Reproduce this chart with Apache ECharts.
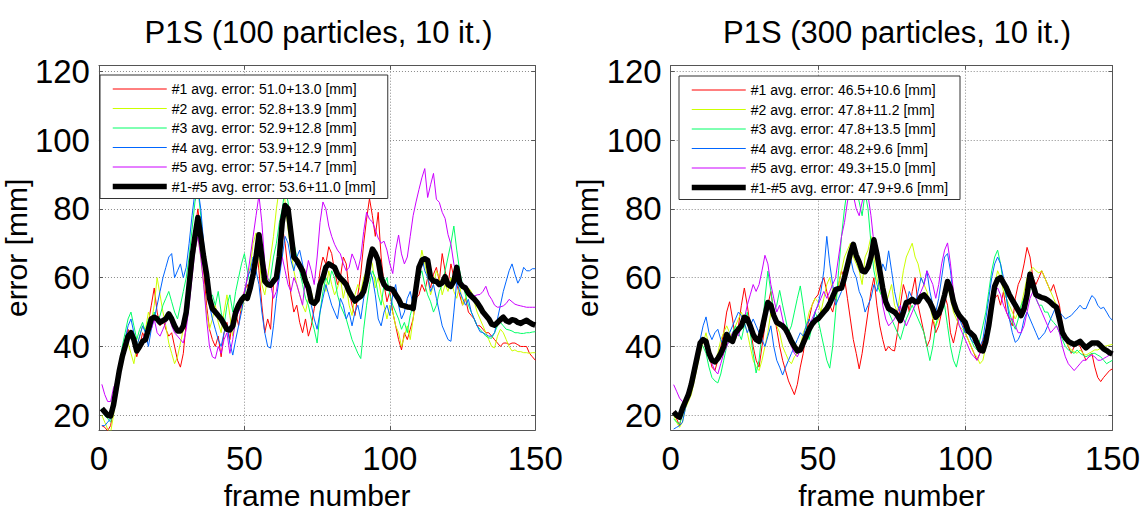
<!DOCTYPE html>
<html><head><meta charset="utf-8">
<script src="https://cdn.jsdelivr.net/npm/echarts@6/dist/echarts.min.js"></script>
<style>html,body{margin:0;padding:0;background:#fff}#c{width:1143px;height:515px}</style>
</head><body><div id="c"></div>
<script>
const FONT = 'Liberation Sans, Arial, Helvetica, sans-serif';
const titles = ['P1S (100 particles, 10 it.)', 'P1S (300 particles, 10 it.)'];
const xName = 'frame number';
const yName = 'error [mm]';
const xTicks = [0, 50, 100, 150];
const yTicks = [20, 40, 60, 80, 100, 120];
const colors = ['#ff0000', '#ccff00', '#00ff66', '#0066ff', '#cc00ff', '#000000'];

const namesL = ['#1 avg. error: 51.0+13.0 [mm]', '#2 avg. error: 52.8+13.9 [mm]', '#3 avg. error: 52.9+12.8 [mm]',
  '#4 avg. error: 53.9+12.9 [mm]', '#5 avg. error: 57.5+14.7 [mm]', '#1-#5 avg. error: 53.6+11.0 [mm]'];
const namesR = ['#1 avg. error: 46.5+10.6 [mm]', '#2 avg. error: 47.8+11.2 [mm]', '#3 avg. error: 47.8+13.5 [mm]',
  '#4 avg. error: 48.2+9.6 [mm]', '#5 avg. error: 49.3+15.0 [mm]', '#1-#5 avg. error: 47.9+9.6 [mm]'];

// ---------- left panel (100 particles), frames 1..150 ----------
const L1 = [17,16.5,15.5,17,22,28,33,38,42,45, 43,41,37,40,44,42,47,52,57,50, 46,48,45,43,44,40,36,34,38,47,
  56,66,74,80,73,62,52,45,42,40, 43,37,44,47,42,48,50,46,52,56, 58,55,63,70,62,52,44,48,45,58,
  62,71,75,70,62,55,50,52,47,44, 48,43,46,51,55,62,66,64,69,67, 62,58,60,66,64,56,52,49,55,61,
  70,77,83,78,72,79,66,58,53,56, 50,46,42,39,44,42,45,48,54,55, 58,56,60,57,61,63,59,67,62,58,
  64,60,58,55,52,54,50,49,48,46, 46,45,44,44,43,42,41,40,41,41, 40.6,41,41,40.5,40,40,40,38,37,36];
const L2 = [20,18,16,15,20,27,33,37,39,41, 38,35,40,43,46,45,50,47,52,60, 55,50,46,41,38,35,37,41,45,50,
  55,62,68,72,66,58,50,45,48,52, 47,44,50,55,49,43,47,52,50,54, 60,63,70,73,66,58,55,60,66,72,
  80,86,88,82,74,68,62,58,55,52, 50,54,56,52,55,58,60,56,62,58, 55,57,60,54,58,52,49,55,58,56,
  60,62,66,64,57,60,55,52,48,52, 50,46,44,40,43,46,42,48,55,62, 68,64,60,55,58,62,60,55,58,56,
  60,56,54,58,52,54,57,56,53,50, 48,46,44,42,40,39.6,43,45,44,42, 40,38.7,39,38.5,38.5,38.2,38.2,38,38.2,38.2];
const L3 = [22,20,19,18,22,28,34,40,44,48, 50,46,42,45,47,44,48,45,50,47, 49,52,54,56,53,50,48,52,56,60,
  66,74,82,86,78,68,60,54,55,52, 56,50,46,52,55,50,56,60,64,67, 62,58,63,68,72,66,62,58,60,66,
  70,76,80,86,82,75,70,66,62,58, 54,52,48,45,41,50,56,60,58,62, 60,55,52,50,48,45,42,40,38,36.5,
  45,52,58,62,60,55,52,58,60,55, 52,50,48,45,47,44,49,52,55,60, 62,58,55,53,50,52,56,58,62,66,
  70,75,68,62,58,55,52,50,48,46, 45,44,43,42.5,42.4,44,46,47,46,45, 44.8,44.5,44,44,43.8,43.8,44,44,44.2,44.3];
const L4 = [17,17,18,19,22,27,32,38,42,46, 48,44,40,43,46,44,40,45,48,52, 56,60,63,66,67,60,62,64,60,63,
  70,78,85,86,80,70,60,52,48,45, 42,40,44,46,41,37.5,42,46,50,55, 60,62,66,62,58,50,44,40,39.5,46,
  54,60,66,72,70,65,62,66,68,64, 60,56,52,48,45,50,54,58,55,52, 50,48,54,52,48,50,46,50,52,48,
  54,58,62,60,55,48,46,50,52,49, 55,58,52,48,50,54,56,52,58,62, 66,62,60,56,58,54,50,46,44,42,
  41.5,50,59,56,54,52,53.7,50,48,46, 44.3,44,43.5,43,43,44,48,52,56,59, 62,64,61,58.4,60,63,62,62,62.6,62.6];
const L5 = [29,26,24,24,28,30,33,37,40,43, 44,42,38,40,42,44,47,45,48,44, 43,45,47,49,46,44,43,42,41,45,
  52,60,68,72,66,58,48,40,37,36.5, 40,38,42,44,38,42,48,50,52,56, 60,66,72,78,84,76,64,60,58,54,
  56,62,66,62,58,56,60,58,55,52, 60,65,62,58,66,76,82,80,75,72, 69.7,68,66.9,64,62,63,66.9,65,62.2,66,
  73.4,79,77,76.2,74,71.5,70,70.6,68,64, 61.2,68,72.4,66.9,64,66,72,78,82,85.6, 89,91.7,83.3,87,90.3,82.8,81.9,79,77.2,72.5,
  69.7,64,60.3,59,58,57,55.6,55,54.6,55, 55.1,56,57.5,55,53.7,52,51.4,51.5,51.8,52.5, 53.7,53,52.3,52,51.8,51.6,51.4,51.4,51.4,51.4];
const LAVG = [22,21,20,19.8,23,28,33,37,40,43, 44,42,38.7,40,41.5,42,45,48,48.5,48, 47,47.5,48,49.5,48,46,44.5,44.5,46,50,
  58,66,72,77.5,72,66,61,54,51,50, 49,48,46.5,45,44.8,46,50,52,53.5,54.5, 54,57,61,66,72.5,66,59,58,57.8,59,
  60,66,76,81,80,73,66,65,63.5,62, 59,57,53,52.5,53.5,58,60,63,64,63.5, 63,61,59.8,59,58,56,54.5,53.2,54,54.6,
  56,59.5,65,68.3,67,65,60,58,57,56.8, 56.5,55,53.7,52,51.8,51.5,51.4,51,57,63, 65,65.5,65,60,59,58.9,58,58.5,60.3,58,
  57.5,59,63,58.5,57.5,57,55.5,54.6,53.8,52.8, 51.5,50,49,48,46.5,46.2,47,47.8,48.5,47.5, 47.1,47.8,47.6,47,46.7,47.2,47.6,47,46.5,46.2];

// ---------- right panel (300 particles), frames 1..150 ----------
const R1 = [21,19,17,21,23,25,28,32,36,40, 42,41,38,34,33,36,40,44,50,53, 48,42,46,52,57,52,46,40,36,34,
  40,46,52,56,50,45,40,36,33,30, 28,26,29,34,38,44,48,52,54,55, 58,60,56,52,50,54,58,62,60,54,
  48,42,38,33.5,38,44,50,56,60,52, 46,42,38.7,40,39,38.7,44,52,58,55, 50,56,60,52,48,44,40,42,48,44,
  46,50,55,52,44,41,45,50,47,44, 42,40,38,36,38,42,44,48,52,54, 55,52,56,50,48,46,54,58,60,64,
  68.8,66,60,58,60,62,60,58,56,58, 55,52,46,42,40,38,40,41,40,38, 36,37,38,34,31,29.8,31,32,33,33.5];
const R2 = [20,18,16.5,18,22,24,26,30,34,38, 41,44,40,37,36,38,42,44,46,44, 42,46,48,50,47,44,40,36,34,33,
  36,40,44,50,48,46,44,40,38,36, 35,37,38,40,44,46,50,52,54,53, 50,54,58,60,56,54,58,62,66,68,
  70,66,64,62,58,66,68,72,66,60, 56,54,52,55,58,52,50,56,62,66, 68,70,66,64,60,58,56,52,48,46,
  48,52,56,58,54,50,48,46,45,44, 42,40,38,37,35,36,40,46,52,58, 62,60,56,54,52,50,48,50,52,56,
  60,62,63,62,61.4,62,60,58,56,54, 52,50,46,42,40,39,38.5,38,39,38, 37.5,38,38.5,39,39,39.5,40,40.2,40.4,40.6];
const R3 = [19,18,17.5,20,23,26,29,33,37,41, 40,38,34,31,30,29.4,32,36,40,42, 44,46,44,42,46,50,44,38,32.3,36,
  44,54,61.9,56,50,52,56.3,52,48,44, 46,50,54,57.6,52,46,42,46,50,48, 44,40,36,33.7,40,50,62,72,80,86,
  84,88,86,82,78,84.8,80,70,62,58, 56,54,52,50,48,46,44,42,45,48, 50,52,50,48,46,44,40,35.9,40,46,
  50,54,52,46,40,36,34,38,42,46, 44,42,40,39,42,46,50,56,62,66, 68,64,58,54,50,47,45,48,52,54,
  56,58,56,54,52,52,50,50,48,47, 46,44,42,40,39,38.5,38,39,38,37.5, 37,37.5,38,38,37.5,37,36,35,35.5,36];
const R4 = [16,16.5,17,18,22,26,30,34,38,42, 46,48.6,44,42,44,45,42,40,42,44, 46,48,50,49,47,44,46,48,46,44,
  42,40,43,46,40,36,34,31.7,34,36, 38,40,42,44,43,46,48,46,50,52, 56,62,72,64,58,52,54,56,60,64,
  66,62,60,56,54,50,52,54,58,56, 60,64,62,67.8,62,56,52,50,48,52, 56,54,52,56,60,58,62,56,52,50,
  54,60,66,67,62,54,50,48,46,44, 44,42,41,40,40,42,48,54,60,64, 66,64,60,54,48,44,41.2,42,44,48,
  50,48,46,44,42,43,44,46,48,50, 52,50,49,48,48.5,49,50,50.9,52,51, 51,53,54.8,54,52,51,51.4,50,48.5,47.6];
const R5 = [28.9,27,25,24,23,25,28,32,36,39, 42,41,38,35,33,32,35,38,40,42, 44,45,43,46,48,52,55,58,56,58,
  62,66.5,64,58,54,50,52,48,44,42, 40,38,37,39,42,44,46,48,50,52, 54,56,54,56,58,60,66,72,76,82,
  86,84,80,78,82,86,84,78,70,66, 60,52,48,46,47,48,50,52,48,46, 48,50,52,54,56,58,62,60,58,54,
  58,64,68,70.1,64,56,50,46,44,42, 40,38,37,36,38,40,44,50,54,56, 57,55,52,50,48,48,46,44,44,46,
  50,54,56,54,52,50,48,46,44,45, 46,44,40,37,35,34,33,34,35,36, 36,37,37.5,37,36,36,36.5,37,37.5,38];
const RAVG = [21,20,19.5,22,24,26,29,33,37,41, 42,41.5,38,36,35.5,36.5,38,40,43.5,42, 41.5,44,45,46,48.5,48,46,43.5,42,41.5,
  45,49,52.8,52,49,47,46.5,46,45,43.4, 41.5,40,38.7,39,41,43,45,46.5,47.5,48, 49,50,51,52.5,54.5,56.5,56.8,57,60,63.5,
  67,69.7,66.5,64.5,62,61.7,63,66,71,67, 62,57,53,51,50.5,50,49,47.5,50,52.8, 53,53.7,53,53,54.5,55,54,52.8,51,48.5,
  49.5,51.8,55,58.9,57,53,50.5,49,48,47, 44.5,43.8,43,41,39,38.7,41.5,46,52,57.5, 59.5,60,58.5,57,55,53.5,52,50.5,49,51,
  55,61,58,55,54.6,54.2,54,53.5,52.8,52, 51.4,48,44,42.5,41.5,41,40.6,41,41.5,40.5, 39.6,40.3,41,41,41,40.2,39.3,38.8,38.2,37.8];

const panels = [
  {names: namesL, lines: [L1, L2, L3, L4, L5, LAVG]},
  {names: namesR, lines: [R1, R2, R3, R4, R5, RAVG]}
];

const gridPos = [
  {left: 91.7, top: 65.7, width: 443.6, height: 375.6},
  {left: 670.7, top: 65.7, width: 442.6, height: 375.6}
];
const legendPos = [{left: 100, top: 75}, {left: 679, top: 76}];
const titleCenter = [313.5, 892];

const BOX = '#555';
const GRIDC = '#8a8a8a';
const option = {
  animation: false,
  backgroundColor: '#fff',
  textStyle: {fontFamily: FONT},
  title: titles.map((t, i) => ({
    text: t, left: titleCenter[i], top: 12, textAlign: 'center',
    textStyle: {fontFamily: FONT, fontSize: 31, fontWeight: 'normal', color: '#000'}
  })),
  grid: gridPos.map(g => Object.assign({show: false, containLabel: false}, g)),
  legend: panels.map((p, i) => ({
    orient: 'vertical', left: legendPos[i].left, top: legendPos[i].top,
    itemWidth: 54, itemHeight: 14, itemGap: 5.5, padding: [7, 12, 5, 10],
    borderColor: '#333', borderWidth: 1, backgroundColor: '#fff', selectedMode: false,
    textStyle: {fontFamily: FONT, fontSize: 14, color: '#000'},
    data: p.names.map((n, k) => ({
      name: n,
      itemStyle: {opacity: 0, borderWidth: 0},
      lineStyle: {width: k === 5 ? 5.5 : 1, color: colors[k], opacity: 1}
    }))
  })),
  xAxis: [],
  yAxis: [],
  series: []
};

panels.forEach((p, i) => {
  option.xAxis.push({
    type: 'value', gridIndex: i, position: 'bottom', min: xTicks[0], max: xTicks[xTicks.length - 1], interval: 50,
    axisLine: {show: true, onZero: false, lineStyle: {color: BOX, width: 1}},
    axisTick: {show: true, inside: true, length: 4, lineStyle: {color: BOX}},
    axisLabel: {show: true, fontFamily: FONT, fontSize: 33, color: '#000', margin: 12},
    splitLine: {show: true, lineStyle: {color: GRIDC, type: [1, 2], width: 1}},
    name: xName, nameLocation: 'middle', nameGap: 38,
    nameTextStyle: {fontFamily: FONT, fontSize: 30, color: '#000'}
  });
  option.xAxis.push({
    type: 'value', gridIndex: i, position: 'top', min: 0, max: 150, interval: 50,
    axisLine: {show: true, onZero: false, lineStyle: {color: BOX, width: 1}},
    axisTick: {show: true, inside: true, length: 4, lineStyle: {color: BOX}},
    axisLabel: {show: false}, splitLine: {show: false}
  });
  option.yAxis.push({
    type: 'value', gridIndex: i, position: 'left', min: 15.7, max: 121.6,
    axisLine: {show: true, onZero: false, lineStyle: {color: BOX, width: 1}},
    axisTick: {show: true, inside: true, length: 4, lineStyle: {color: BOX}, customValues: yTicks},
    axisLabel: {show: true, fontFamily: FONT, fontSize: 33, color: '#000', margin: 9, customValues: yTicks},
    splitLine: {show: true, lineStyle: {color: GRIDC, type: [1, 2], width: 1}},
    name: yName, nameLocation: 'middle', nameGap: 47,
    nameTextStyle: {fontFamily: FONT, fontSize: 30, color: '#000'}
  });
  option.yAxis.push({
    type: 'value', gridIndex: i, position: 'right', min: 15.7, max: 121.6,
    axisLine: {show: true, onZero: false, lineStyle: {color: BOX, width: 1}},
    axisTick: {show: true, inside: true, length: 4, lineStyle: {color: BOX}, customValues: yTicks},
    axisLabel: {show: false, customValues: yTicks}, splitLine: {show: false}
  });
  p.lines.forEach((vals, k) => {
    option.series.push({
      type: 'line', name: p.names[k], xAxisIndex: i * 2, yAxisIndex: i * 2,
      data: vals.map((v, j) => [j + 1, v]),
      symbol: 'none', showSymbol: false, smooth: false, silent: true,
      lineStyle: {color: colors[k], width: k === 5 ? 5.5 : 1, join: 'round'},
      itemStyle: {color: colors[k]},
      z: k === 5 ? 5 : 2
    });
  });
});

const chart = echarts.init(document.getElementById('c'), null, {renderer: 'svg'});
chart.setOption(option);
</script>
</body></html>
